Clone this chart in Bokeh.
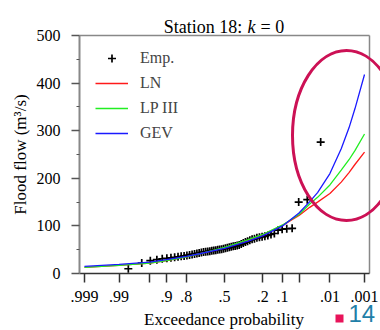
import math
from statistics import NormalDist
from bokeh.plotting import figure
from bokeh.models import FixedTicker, Label, Range1d, Legend, LegendItem
from bokeh.embed import file_html
from bokeh.resources import INLINE

# ---------------- data ----------------
emp_p = [0.0169, 0.0339, 0.0508, 0.0678, 0.0847, 0.1017, 0.1186, 0.1356, 0.1525, 0.1695,
         0.1864, 0.2034, 0.2203, 0.2373, 0.2542, 0.2712, 0.2881, 0.3051, 0.3220, 0.3390,
         0.3559, 0.3729, 0.3898, 0.4068, 0.4237, 0.4407, 0.4576, 0.4746, 0.4915, 0.5085,
         0.5254, 0.5424, 0.5593, 0.5763, 0.5932, 0.6102, 0.6271, 0.6441, 0.6610, 0.6780,
         0.6949, 0.7119, 0.7288, 0.7458, 0.7627, 0.7797, 0.7966, 0.8136, 0.8305, 0.8475,
         0.8644, 0.8814, 0.8983, 0.9153, 0.9322, 0.9492, 0.9661, 0.9831]
emp_q = [276, 155, 150, 95, 94, 93, 91, 84, 82, 80,
         78, 77, 76, 75, 73, 72, 70, 68, 66, 64,
         62, 60, 59, 58, 57, 56, 55, 54, 53, 52,
         51, 50.5, 50, 49, 48.5, 48, 47, 46, 45.5, 45,
         44, 43, 42, 41, 40, 39, 38, 37, 36, 35,
         34, 33, 32, 31, 29, 27, 22, 10]

curve_p = [0.999, 0.99, 0.95, 0.9, 0.8, 0.7, 0.5, 0.3, 0.2, 0.1, 0.05, 0.03, 0.02, 0.01, 0.005, 0.003, 0.002, 0.001]
ln_q    = [13, 17, 22, 27, 35, 42, 54, 70, 81, 101, 122, 139, 150, 168, 192, 212, 229, 255]
lp3_q   = [13, 17, 22, 27, 35, 42, 55, 71, 82, 102, 124, 146, 160, 186, 217, 239, 258, 293]
gev_q   = [15, 19, 24, 29, 36, 42, 53, 68, 79, 100, 127, 151, 170, 210, 262, 306, 346, 418]

tick_p = [0.999, 0.99, 0.95, 0.9, 0.8, 0.5, 0.2, 0.1, 0.05, 0.01, 0.001]
tick_labels = [".999", ".99", "", ".9", ".8", ".5", ".2", ".1", "", ".01", ".001"]
y_ticks = [0, 100, 200, 300, 400, 500]
y_minor = [50, 150, 250, 350, 450]

# ---------------- probability scale & page geometry ----------------
nd = NormalDist()
def zq(ps):
    return [nd.inv_cdf(1.0 - v) for v in ps]

SERIF = "Liberation Serif"
W, H = 380, 330
X_LO, X_HI = -3.2, 3.2          # visible box in normal-quantile units
Y_LO, Y_HI = 0, 500
BOX_L, BOX_R, BOX_T, BOX_B = 79, 369, 35, 273   # box position in pixels
SX = (BOX_R - BOX_L) / (X_HI - X_LO)
SY = (BOX_B - BOX_T) / (Y_HI - Y_LO)
XR = (X_LO - BOX_L / SX, X_HI + (W - BOX_R) / SX)
YR = (Y_LO - (H - BOX_B) / SY, Y_HI + BOX_T / SY)

def dx(px):  # pixel -> data (for annotation placement only)
    return XR[0] + px / SX
def dy(py):
    return YR[1] - py / SY

p = figure(width=W, height=H, x_range=Range1d(*XR), y_range=Range1d(*YR),
           output_backend="svg", toolbar_location=None, min_border=0)
p.outline_line_color = None
p.grid.visible = False
p.background_fill_color = "white"
p.border_fill_color = "white"

tick_x = zq(tick_p)
xa = p.xaxis[0]
xa.fixed_location = Y_LO
xa.ticker = FixedTicker(ticks=tick_x)
xa.major_label_overrides = dict(zip(tick_x, tick_labels))
xa.bounds = (X_LO, X_HI)
xa.minor_tick_line_color = None
xa.major_tick_out = 9
xa.major_tick_in = 0
xa.axis_line_color = "#333333"
xa.axis_line_width = 1.5
xa.major_tick_line_color = "#333333"
xa.major_tick_line_width = 1.5
xa.major_label_text_font = SERIF
xa.major_label_text_font_size = "16px"
xa.major_label_text_color = "black"
xa.major_label_standoff = 8

ya = p.yaxis[0]
ya.fixed_location = X_LO
ya.ticker = FixedTicker(ticks=y_ticks, minor_ticks=y_minor)
ya.bounds = (Y_LO, Y_HI)
ya.axis_line_color = "#888888"
ya.axis_line_width = 2
ya.major_tick_out = 8
ya.major_tick_in = 0
ya.minor_tick_out = 3
ya.minor_tick_in = 0
ya.major_tick_line_color = "#555555"
ya.minor_tick_line_color = "#555555"
ya.major_tick_line_width = 1.5
ya.major_label_text_font = SERIF
ya.major_label_text_font_size = "16px"
ya.major_label_text_color = "black"
ya.major_label_standoff = 11

# box edges (top and right)
p.line([X_LO, X_HI], [Y_HI, Y_HI], line_color="#888888", line_width=1.5)
p.line([X_HI, X_HI], [Y_LO, Y_HI], line_color="#888888", line_width=1.5)

cx = zq(curve_p)
r_emp = p.scatter(zq(emp_p), emp_q, marker="cross", size=8, line_color="black", line_width=1.7)
r_ln = p.line(cx, ln_q, line_color="#ff1a1a", line_width=1.3)
r_lp = p.line(cx, lp3_q, line_color="#22ee22", line_width=1.3)
r_gev = p.line(cx, gev_q, line_color="#1a1aff", line_width=1.3)

legend = Legend(items=[LegendItem(label="Emp.", renderers=[r_emp]),
                       LegendItem(label="LN", renderers=[r_ln]),
                       LegendItem(label="LP III", renderers=[r_lp]),
                       LegendItem(label="GEV", renderers=[r_gev])],
                location=(95, H - 143), margin=0, padding=0, spacing=5,
                glyph_width=33, glyph_height=20, label_height=20, label_standoff=12,
                label_text_font=SERIF, label_text_font_size="16px",
                background_fill_alpha=0, border_line_color=None)
p.add_layout(legend)

# annotation ellipse
p.ellipse(x=dx(346), y=dy(135), width=108, height=170, width_units="screen", height_units="screen",
          fill_color=None, line_color="#cc1155", line_width=3)

# title with italic k
for txt, px, style in [("Station 18:", 163.3, "normal"), ("k", 247, "italic"), ("= 0", 260, "normal")]:
    p.add_layout(Label(x=dx(px), y=dy(26.7), text=txt,
                       text_font=SERIF, text_font_size="18px", text_font_style=style,
                       text_align="left", text_baseline="alphabetic", text_color="black"))

# axis titles
p.add_layout(Label(x=dx(223.5), y=dy(318.5), text="Exceedance probability", text_font=SERIF,
                   text_font_size="17px", text_align="center", text_baseline="alphabetic",
                   text_color="black"))
p.add_layout(Label(x=dx(20), y=dy(154), text="Flood flow (m\u00b3/s)", text_font=SERIF,
                   text_font_size="17px", text_align="center", text_baseline="middle",
                   angle=math.pi / 2, text_color="black"))

# page badge
p.rect(x=[dx(339)], y=[dy(318)], width=8, height=8, width_units="screen", height_units="screen",
       fill_color="#e8145a", line_color=None)
p.add_layout(Label(x=dx(348), y=dy(304), text="14", text_font="Liberation Sans", text_font_size="24px",
                   text_color="#1f7fa8", text_align="left", text_baseline="top"))

open("out.html", "w").write(file_html(p, INLINE))
